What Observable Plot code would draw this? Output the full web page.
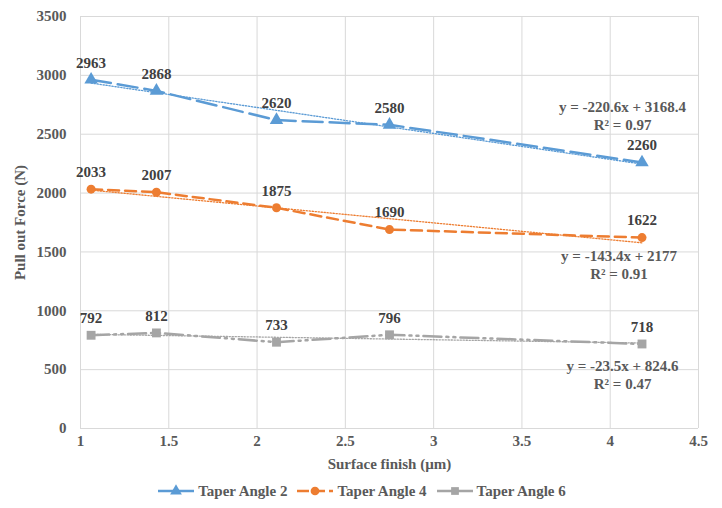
<!DOCTYPE html>
<html>
<head>
<meta charset="utf-8">
<script src="https://cdn.jsdelivr.net/npm/d3@7"></script>
<script src="https://cdn.jsdelivr.net/npm/@observablehq/plot@0.6"></script>
<style>
  body { margin: 0; background: #fff; }
  #wrap { width: 722px; }
  #legend { display: flex; justify-content: center; align-items: center; gap: 8px; height: 34px;
    font-family: "Times New Roman", Times, "Liberation Serif", "DejaVu Serif", serif; font-weight: bold; font-size: 15px; color: #595959; }
  .item { display: flex; align-items: center; gap: 2px; }
</style>
</head>
<body>
<div id="wrap"><div id="chart"></div><div id="legend"></div></div>
<script>
// ---- data ----
const surfaceFinish = [1.06, 1.43, 2.11, 2.75, 4.18];
const taperAngle2 = [2963, 2868, 2620, 2580, 2260];
const taperAngle4 = [2033, 2007, 1875, 1690, 1622];
const taperAngle6 = [792, 812, 733, 796, 718];
const seriesNames = ["Taper Angle 2", "Taper Angle 4", "Taper Angle 6"];
const trendSlopes = [-220.6, -143.4, -23.5];
const trendIntercepts = [3168.4, 2177, 824.6];
const trendR2 = ["0.97", "0.91", "0.47"];
const xTicks = [1, 1.5, 2, 2.5, 3, 3.5, 4, 4.5];
const yTicks = [0, 500, 1000, 1500, 2000, 2500, 3000, 3500];

// ---- styles ----
const colors = ["#5B9BD5", "#ED7D31", "#A5A5A5"];
const dashes = ["20,7", "11,6", "18,5,2,5,2,5"];
const symbols = ["triangle", "circle", "square"];
const eqAnchor = [[4.07, 2663], [4.05, 1398], [4.07, 460]];

const allValues = [taperAngle2, taperAngle4, taperAngle6];
const rows = [];
allValues.forEach((vals, s) => vals.forEach((v, i) => rows.push({series: seriesNames[s], s, x: surfaceFinish[i], y: v})));
const trendRows = [];
seriesNames.forEach((n, s) => {
  [surfaceFinish[0], surfaceFinish[surfaceFinish.length - 1]].forEach(x =>
    trendRows.push({series: n, s, x, y: trendSlopes[s] * x + trendIntercepts[s]}));
});
const eqRows = seriesNames.map((n, s) => ({
  s, x: eqAnchor[s][0], y: eqAnchor[s][1],
  text: `y = ${trendSlopes[s]}x + ${trendIntercepts[s]}\nR² = ${trendR2[s]}`
}));

const font = '"Times New Roman", Times, "Liberation Serif", "DejaVu Serif", serif';
const marks = [
  Plot.gridX(xTicks, {stroke: "#D9D9D9", strokeOpacity: 1}),
  Plot.gridY(yTicks, {stroke: "#D9D9D9", strokeOpacity: 1}),
];
seriesNames.forEach((n, s) => {
  marks.push(Plot.line(trendRows.filter(d => d.s === s), {x: "x", y: "y", stroke: colors[s], strokeWidth: 1.3, strokeDasharray: "1.3,1.7"}));
  marks.push(Plot.line(rows.filter(d => d.s === s), {x: "x", y: "y", stroke: colors[s], strokeWidth: 2.5, strokeDasharray: dashes[s]}));
  marks.push(Plot.dot(rows.filter(d => d.s === s), {x: "x", y: "y", fill: colors[s], symbol: symbols[s], r: s === 1 ? 4.5 : 5}));
});
marks.push(Plot.text(rows, {x: "x", y: "y", text: d => String(d.y), dy: -17, fill: "#404040", fontWeight: "bold", fontSize: 15, fontFamily: font}));
marks.push(Plot.text(eqRows, {x: "x", y: "y", text: "text", fill: "#595959", fontWeight: "bold", fontSize: 15, lineHeight: 1.2, fontFamily: font}));

const chart = Plot.plot({
  width: 722,
  height: 474,
  marginTop: 16,
  marginLeft: 80,
  marginRight: 24,
  marginBottom: 46,
  style: {fontFamily: font, fontSize: "15px", color: "#595959", fontWeight: "bold", background: "#fff"},
  x: {domain: [1, 4.5], ticks: xTicks, tickFormat: d => String(d), label: "Surface finish (µm)", labelAnchor: "center", labelArrow: "none", labelOffset: 40, tickSize: 0, tickPadding: 7},
  y: {domain: [0, 3500], ticks: yTicks, tickFormat: d => String(d), label: "Pull out Force (N)", labelAnchor: "center", labelArrow: "none", labelOffset: 66, tickSize: 0, tickPadding: 14},
  marks
});
document.getElementById("chart").appendChild(chart);

// legend
const legend = document.getElementById("legend");
seriesNames.forEach((n, s) => {
  const item = document.createElement("div");
  item.className = "item";
  const ns = "http://www.w3.org/2000/svg";
  const svg = document.createElementNS(ns, "svg");
  svg.setAttribute("width", 40); svg.setAttribute("height", 14);
  const line = document.createElementNS(ns, "line");
  line.setAttribute("x1", 2); line.setAttribute("x2", 38); line.setAttribute("y1", 7); line.setAttribute("y2", 7);
  line.setAttribute("stroke", colors[s]); line.setAttribute("stroke-width", 2.5);
  if (s === 1) line.setAttribute("stroke-dasharray", "12,4");
  svg.appendChild(line);
  const sym = d3.symbol(s === 0 ? d3.symbolTriangle : s === 1 ? d3.symbolCircle : d3.symbolSquare, 60)();
  const p = document.createElementNS(ns, "path");
  p.setAttribute("d", sym); p.setAttribute("transform", "translate(20,7)"); p.setAttribute("fill", colors[s]);
  svg.appendChild(p);
  item.appendChild(svg);
  const t = document.createElement("span");
  t.textContent = n;
  item.appendChild(t);
  legend.appendChild(item);
});
</script>
</body>
</html>
